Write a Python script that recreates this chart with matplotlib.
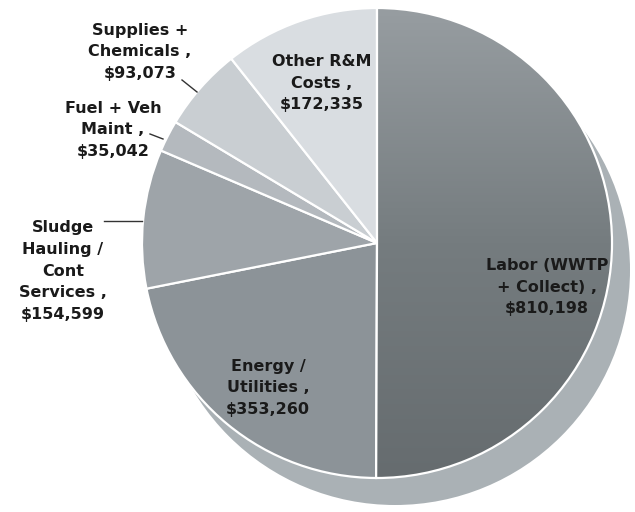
"""Pie chart of annual O&M cost breakdown (greyscale, scanned-report look)."""
import matplotlib
matplotlib.use("Agg")
import numpy as np
import matplotlib.pyplot as plt
from matplotlib.colors import LinearSegmentedColormap
from matplotlib.patches import Circle

# data
categories = [
    "Labor (WWTP\n+ Collect) ,",
    "Energy /\nUtilities ,",
    "Sludge\nHauling /\nCont\nServices ,",
    "Fuel + Veh\nMaint ,",
    "Supplies +\nChemicals ,",
    "Other R&M\nCosts ,",
]
costs = [810198, 353260, 154599, 35042, 93073, 172335]
colors = ["#737a7d", "#8c9398", "#9ea4a9", "#b4b9be", "#c9ced2", "#d9dde1"]

W, H = 635, 512
fig = plt.figure(figsize=(W / 100, H / 100), dpi=100)
ax = fig.add_axes([0, 0, 1, 1])

cx, cy, r = 377, H - 243, 235

# soft shadow disk behind the pie
ax.add_patch(Circle((cx + 18, cy - 27), r, facecolor="#aab1b5", edgecolor="none", zorder=0))

wedges, _ = ax.pie(
    costs,
    colors=colors,
    startangle=90,
    counterclock=False,
    center=(cx, cy),
    radius=r,
    explode=[0.008, 0, 0, 0, 0, 0],
    wedgeprops=dict(edgecolor="white", linewidth=1.6),
    frame=True,
)
for w in wedges:
    w.set_zorder(1)

# light-to-dark shading on the big labor slice; the wedge keeps its white edge on top
shade = LinearSegmentedColormap.from_list("shade", ["#666c6f", "#757c7f", "#979da1"])
grad = np.linspace(0, 1, 256).reshape(-1, 1)
img = ax.imshow(grad, cmap=shade, origin="lower", aspect="auto",
                extent=(cx, cx + r + 10, cy - r, cy + r), zorder=1.5)
img.set_clip_path(wedges[0])
wedges[0].set_facecolor("none")
wedges[0].set_zorder(2)

ax.set_xlim(0, W)
ax.set_ylim(0, H)
ax.set_aspect("equal")
ax.axis("off")

font = dict(family="DejaVu Sans", weight="bold", fontsize=11.5,
            ha="center", va="center", linespacing=1.55, color="#1a1a1a", zorder=3)

# label text positions (pixels from top-left) and optional leader lines
label_pos = [(547, 287), (268, 388), (63, 271), (113, 130), (140, 52), (322, 83)]
leaders = {
    2: ((104, 221), (142, 221)),
    3: ((150, 134), (163, 139)),
    4: ((182, 80), (197, 92)),
}

for i, (name, val) in enumerate(zip(categories, costs)):
    x, y = label_pos[i]
    ax.text(x, H - y, f"{name}\n${val:,}", **font)
    if i in leaders:
        (x0, y0), (x1, y1) = leaders[i]
        ax.plot([x0, x1], [H - y0, H - y1], color="#333333", lw=1, zorder=3)

fig.savefig("out.png", dpi=100)
